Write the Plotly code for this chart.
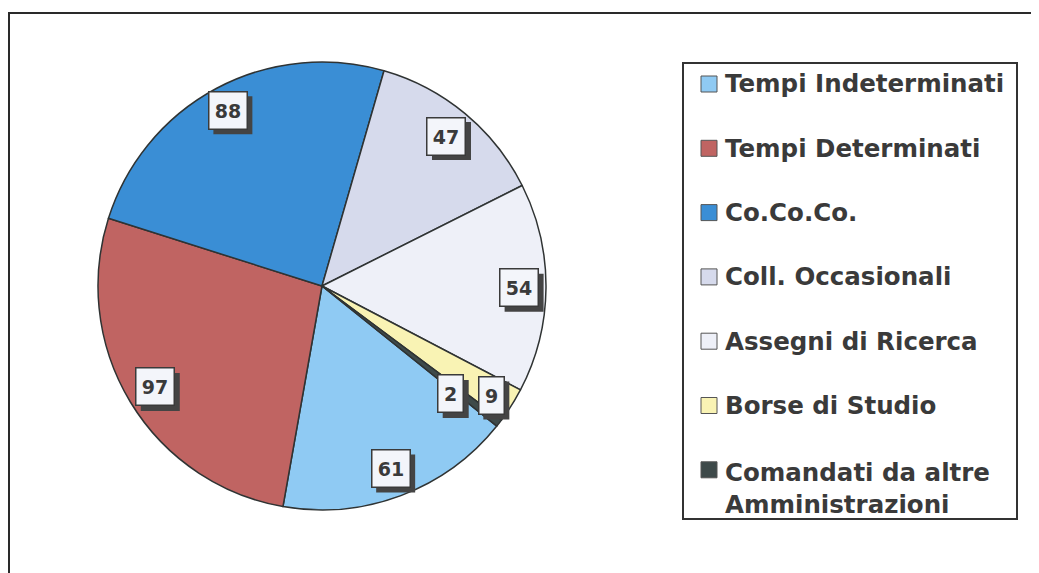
import math
import plotly.graph_objects as go

# ---- data ----
labels = ["Tempi Indeterminati", "Tempi Determinati", "Co.Co.Co.", "Coll. Occasionali",
          "Assegni di Ricerca", "Borse di Studio", "Comandati da altre<br>Amministrazioni"]
values = [61, 97, 88, 47, 54, 9, 2]

# ---- style ----
colors = ["#8fcaf3", "#c06462", "#3a8ed5", "#d6daec", "#eef0f8", "#f9f3b4", "#3e4a4a"]
OFF = 8                      # page body margin in the browser
W, H = 1039 - OFF, 573 - OFF
CX, CY, R = 322, 286, 224    # reference pixel coords
ROT = 128.7
lab_rf = [0.87, 0.87, 0.89, 0.87, 0.88, 0.90, 0.75]   # radial fraction of value labels
lab_da = [0, 0, 0, 0, 0, 0.7, 2.3]                    # angular nudge (deg)
FONT = "DejaVu Sans, Verdana, sans-serif"
TXT = "#3a3a3a"


def px(x):
    return (x - OFF) / W


def py(y):
    return 1 - (y - OFF) / H


fig = go.Figure(go.Pie(
    labels=labels, values=values, sort=False, direction="clockwise", rotation=ROT,
    marker=dict(colors=colors, line=dict(color="#2f3333", width=1.5)),
    textinfo="none", hoverinfo="label+value", showlegend=False,
    domain=dict(x=[px(CX - R), px(CX + R)], y=[py(CY + R), py(CY - R)]),
))

annotations = []
shapes = []

# value labels with shadow boxes
total = sum(values)
cum = 0
for i, v in enumerate(values):
    th = math.radians(ROT + 360 * (cum + v / 2) / total + lab_da[i])
    cum += v
    rr = R * lab_rf[i]
    x = CX + rr * math.sin(th)
    y = CY - rr * math.cos(th)
    tw = 13 * len(str(v)) + 1
    ow, oh = tw + 12, 26 + 12
    shapes.append(dict(type="rect", xref="paper", yref="paper", layer="above",
                       x0=px(x - ow / 2 + 5), x1=px(x + ow / 2 + 5),
                       y0=py(y + oh / 2 + 5), y1=py(y - oh / 2 + 5),
                       fillcolor="#444444", line=dict(width=0)))
    annotations.append(dict(x=px(x), y=py(y), xref="paper", yref="paper", showarrow=False,
                            xanchor="center", yanchor="middle",
                            text=str(v), width=tw, height=26, borderpad=5, borderwidth=1.5,
                            bgcolor="#f3f5fa", bordercolor="#3a3a3a",
                            font=dict(family=FONT, size=19, color=TXT, weight="bold")))

# outer frame (right and bottom run off the page)
shapes.append(dict(type="rect", xref="paper", yref="paper", x0=px(9), y0=py(13),
                   x1=px(1039 + 20), y1=py(573 + 20), line=dict(color="#2a2a2a", width=2)))

# manual legend
LX0, LY0, LX1, LY1 = 683, 63, 1017, 519
shapes.append(dict(type="rect", xref="paper", yref="paper", x0=px(LX0), y0=py(LY0),
                   x1=px(LX1), y1=py(LY1), line=dict(color="#333333", width=2),
                   fillcolor="rgba(0,0,0,0)"))
ROW0, STEP, SQ = 84, 64.3, 16
for i, lab in enumerate(labels):
    yc = ROW0 + STEP * i
    shapes.append(dict(type="rect", xref="paper", yref="paper",
                       x0=px(701), y0=py(yc + SQ / 2), x1=px(701 + SQ), y1=py(yc - SQ / 2),
                       fillcolor=colors[i], line=dict(color="#555555", width=1)))
    two = "<br>" in lab
    annotations.append(dict(x=px(723), y=py(yc), xref="paper", yref="paper",
                            xanchor="left", yanchor="top" if two else "middle",
                            yshift=14 if two else 0,
                            showarrow=False, text=lab, align="left",
                            font=dict(family=FONT, size=24.5, color=TXT, weight="bold")))

fig.update_layout(
    width=W, height=H, margin=dict(l=0, r=0, t=0, b=0),
    paper_bgcolor="white", plot_bgcolor="white",
    annotations=annotations, shapes=shapes,
)

fig.write_html("out.html")
